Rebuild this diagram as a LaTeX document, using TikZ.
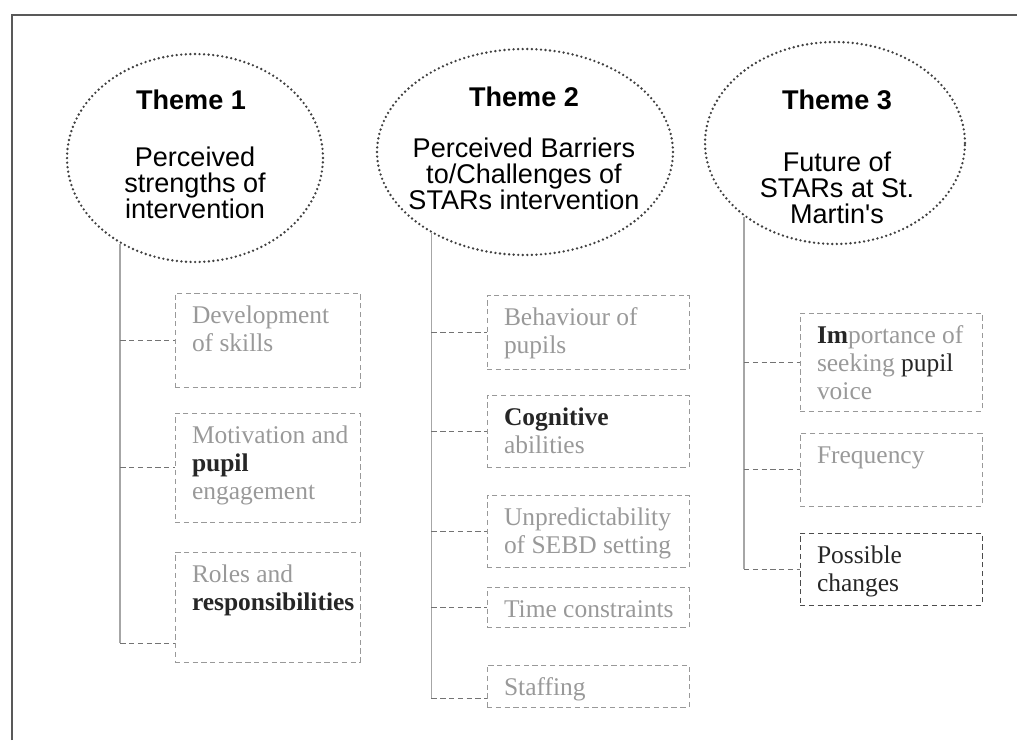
\documentclass[tikz,border=0pt]{standalone}
\usepackage{fontspec}
\setmainfont{Liberation Serif}
\setsansfont{Liberation Sans}
\usetikzlibrary{shapes.geometric}
\definecolor{faded}{gray}{0.6}
\newcommand{\dark}[1]{\textcolor{black!85}{#1}}
\newcommand{\boxtext}[3]{\parbox[c][#2][t]{#1}{\raggedright\leftskip=0.34cm\rule{0pt}{17.5pt}#3}}

\begin{document}
\begin{tikzpicture}[x=0.02cm, y=-0.02cm,
	themebox/.style={ellipse, draw=black!75, line width=1.5pt, dash pattern=on 0pt off 2.6pt, line cap=round, inner sep=0pt},
	titletxt/.style={font=\sffamily\bfseries\fontsize{15.4}{16}\selectfont, inner sep=0pt},
	subtxt/.style={align=center, font=\sffamily\fontsize{15.4}{14.8}\selectfont, inner sep=0pt},
	itembox/.style={draw=black!40, densely dashed, line width=0.4pt, inner sep=0pt, outer sep=0pt, anchor=north west, text=faded, font=\fontsize{14.5}{16}\selectfont},
	trunkline/.style={draw=black!35, line width=1pt},
	branchline/.style={draw=black!55, densely dashed, line width=0.4pt}]
			%%%%% FRAME %%%%%
			\useasboundingbox (0,0) rectangle (1017,740);
			\draw[black!65, line width=1pt] (12,740) -- (12,15) -- (1017,15);
			
			%%%%% THEMES %%%%%
			\node[themebox, minimum width=5.12cm, minimum height=4.16cm] (e1) at (195,158) {};
			\node[titletxt] (t1) at (191,100) {Theme 1};
			\node[subtxt] (s1) at (195,183) {Perceived\\strengths of\\intervention};
			
			\node[themebox, minimum width=5.92cm, minimum height=4.12cm] (e2) at (525,152) {};
			\node[titletxt] (t2) at (524,97) {Theme 2};
			\node[subtxt] (s2) at (524,174) {Perceived Barriers\\to/Challenges of\\STARs intervention};
			
			\node[themebox, minimum width=5.2cm, minimum height=4.04cm] (e3) at (835,143) {};
			\node[titletxt] (t3) at (837,100) {Theme 3};
			\node[subtxt] (s3) at (837,188) {Future of\\STARs at St.\\Martin\textquotesingle s};
			
			%%%%% THEME 1 %%%%%
			\node[itembox] (b11) at (175,293) {\boxtext{3.7cm}{1.88cm}{Development\\of skills}};
			\node[itembox] (b12) at (175,413) {\boxtext{3.7cm}{2.18cm}{Motivation and\\\dark{\textbf{pupil}}\\engagement}};
			\node[itembox] (b13) at (175,552) {\boxtext{3.7cm}{2.2cm}{Roles and\\\dark{\textbf{responsibilities}}}};
			\coordinate (j13) at ([yshift=0.38cm]b13.south west);
			
			\draw[trunkline] (e1.229) -- (e1.229 |- j13);
			\draw[branchline] (e1.229 |- b11.west) -- (b11.west);
			\draw[branchline] (e1.229 |- b12.west) -- (b12.west);
			\draw[branchline] (e1.229 |- j13) -- (j13);
			
			%%%%% THEME 2 %%%%%
			\node[itembox] (b21) at (487,295) {\boxtext{4.04cm}{1.48cm}{Behaviour of\\pupils}};
			\node[itembox] (b22) at (487,395) {\boxtext{4.04cm}{1.44cm}{\dark{\textbf{Cognitive}}\\abilities}};
			\node[itembox] (b23) at (487,495) {\boxtext{4.04cm}{1.44cm}{Unpredictability\\of SEBD setting}};
			\node[itembox] (b24) at (487,587) {\boxtext{4.04cm}{0.8cm}{Time constraints}};
			\node[itembox] (b25) at (487,665) {\boxtext{4.04cm}{0.84cm}{Staffing}};
			\coordinate (j25) at ([yshift=0.18cm]b25.south west);
			
			\draw[trunkline] (e2.221) -- (e2.221 |- j25);
			\foreach \b in {b21,b22,b23,b24}
				\draw[branchline] (e2.221 |- \b.west) -- (\b.west);
			\draw[branchline] (e2.221 |- j25) -- (j25);
			
			%%%%% THEME 3 %%%%%
			\node[itembox] (b31) at (800,313) {\boxtext{3.64cm}{1.96cm}{\dark{\textbf{Im}}portance of\\seeking \dark{pupil}\\voice}};
			\node[itembox] (b32) at (800,433) {\boxtext{3.64cm}{1.46cm}{Frequency}};
			\node[itembox, draw=black!70, text=black!85] (b33) at (800,533) {\boxtext{3.64cm}{1.44cm}{Possible\\changes}};
			
			\draw[trunkline] (e3.219) -- (e3.219 |- b33.west);
			\foreach \b in {b31,b32,b33}
				\draw[branchline] (e3.219 |- \b.west) -- (\b.west);
\end{tikzpicture}
\end{document}
